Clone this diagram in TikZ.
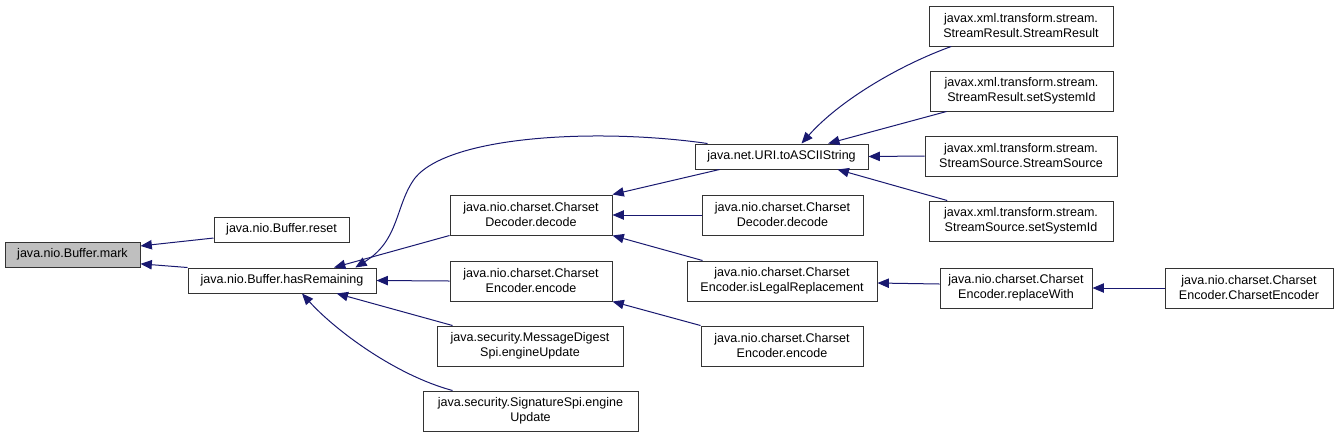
\documentclass[tikz,border=0pt]{standalone}
\usepackage{fontspec}
\setmainfont{Liberation Sans}
\usepackage{xcolor}
\usetikzlibrary{arrows.meta,calc}

\definecolor{edgeblue}{HTML}{191970}
\definecolor{markgray}{HTML}{BFBFBF}

\begin{document}
\begin{tikzpicture}[
      x=0.75pt, y=-0.75pt,
      func/.style={
        draw=black!80,
        line width=0.75pt,
        fill=white,
        inner sep=0pt,
        align=center,
        font=\fontsize{9.4pt}{11.25pt}\selectfont
      },
      one/.style={func, minimum height=18.75pt},
      two/.style={func, minimum height=30pt},
      boxw/.style={minimum width=#1*0.75pt},
      focus/.style={one, fill=markgray},
      call/.style={
        draw=edgeblue,
        line width=0.75pt,
        -{Triangle[length=8.5pt,width=7pt]}
      }
    ]
      \useasboundingbox (0,0) rectangle (1337,437);

      % Callee
      \node[focus, boxw=135] (mark) at (72.5,254.5) {java.nio.Buffer.mark};

      % First level
      \node[one, boxw=135] (reset) at (281.5,229.5) {java.nio.Buffer.reset};
      \node[one, boxw=188] (hasrem) at (282,280.5) {java.nio.Buffer.hasRemaining};

      % Second level
      \node[two, boxw=162] (decl) at (531,215) {java.nio.charset.Charset\\Decoder.decode};
      \node[two, boxw=162] (encl) at (531,281) {java.nio.charset.Charset\\Encoder.encode};
      \node[two, boxw=186] (mdspi) at (530,346) {java.security.MessageDigest\\Spi.engineUpdate};
      \node[two, boxw=215] (sigspi) at (530.5,411) {java.security.SignatureSpi.engine\\Update};

      % Third level
      \node[one, boxw=173] (ascii) at (781.5,156.5) {java.net.URI.toASCIIString};
      \node[two, boxw=161] (decr) at (782.5,215) {java.nio.charset.Charset\\Decoder.decode};
      \node[two, boxw=190] (legal) at (782,281) {java.nio.charset.Charset\\Encoder.isLegalReplacement};
      \node[two, boxw=162] (encr) at (782,346) {java.nio.charset.Charset\\Encoder.encode};

      % Fourth level
      \node[two, boxw=184] (srres) at (1021,26) {javax.xml.transform.stream.\\StreamResult.StreamResult};
      \node[two, boxw=183] (srid) at (1021.5,91) {javax.xml.transform.stream.\\StreamResult.setSystemId};
      \node[two, boxw=192] (sssrc) at (1021,156) {javax.xml.transform.stream.\\StreamSource.StreamSource};
      \node[two, boxw=184] (ssid) at (1021,221) {javax.xml.transform.stream.\\StreamSource.setSystemId};
      \node[two, boxw=152] (repl) at (1016,288) {java.nio.charset.Charset\\Encoder.replaceWith};

      % Fifth level
      \node[two, boxw=168] (cenc) at (1249,288) {java.nio.charset.Charset\\Encoder.CharsetEncoder};

      % Calls
      \draw[call] ([yshift=-6.4pt]reset.west) -- ([yshift=6.4pt]mark.east);
      \draw[call] (hasrem.north west) -- ([yshift=-7pt]mark.east);

      \draw[call] ([xshift=9.75pt]ascii.north west)
        .. controls (600,128) and (450,135) .. (415,178)
        .. controls (395,205) and (400,240) .. ([xshift=55pt]hasrem.north);
      \draw[call] (decl.south west) -- ([xshift=39pt]hasrem.north);
      \draw[call] (encl.west) -- (hasrem.east);
      \draw[call] ([xshift=12pt]mdspi.north west) -- ([xshift=41pt]hasrem.south);
      \draw[call] ([xshift=22.5pt]sigspi.north west)
        .. controls (395,375) and (335,330) .. ([xshift=15pt]hasrem.south);

      \draw[call] ([xshift=18.75pt]ascii.south west) -- (decl.north east);
      \draw[call] (decr.west) -- (decl.east);
      \draw[call] ([xshift=12pt]legal.north west) -- (decl.south east);
      \draw[call] (encr.north west) -- (encl.south east);

      \draw[call] ([xshift=17pt]srres.south west)
        .. controls (900,65) and (840,100) .. ([xshift=15pt]ascii.north);
      \draw[call] ([xshift=12.75pt]srid.south west) -- ([xshift=35pt]ascii.north);
      \draw[call] (sssrc.west) -- (ascii.east);
      \draw[call] ([xshift=14pt]ssid.north west) -- ([xshift=42pt]ascii.south);

      \draw[call] ([yshift=3pt]repl.west) -- ([yshift=-1.5pt]legal.east);
      \draw[call] (cenc.west) -- (repl.east);
    \end{tikzpicture}
\end{document}
